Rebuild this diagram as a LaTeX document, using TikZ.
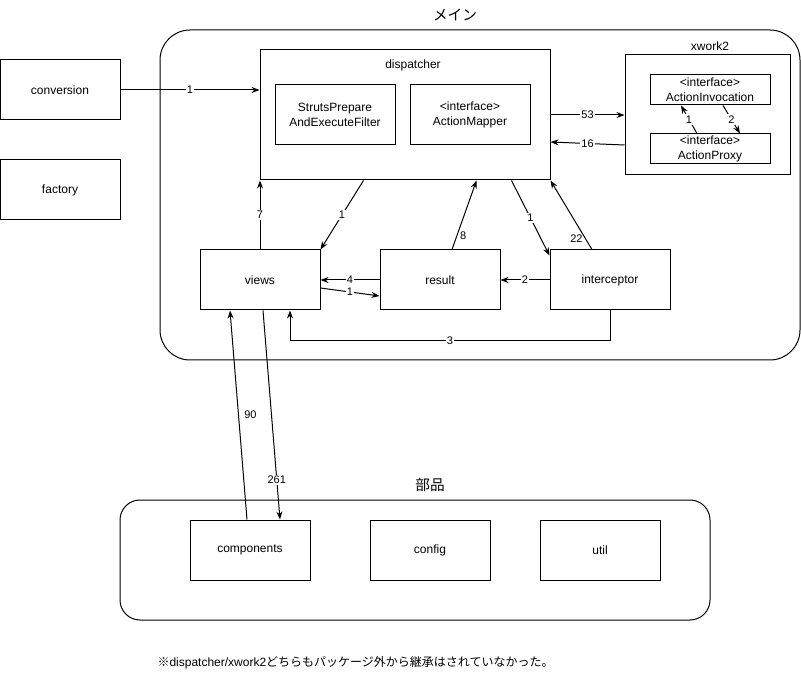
\documentclass[tikz,border=0pt]{standalone}
\usepackage{fontspec}
\setmainfont{Liberation Sans}
\newfontfamily\jpfont{Noto Sans CJK JP}
\usetikzlibrary{arrows.meta,calc,positioning}

\begin{document}
\begin{tikzpicture}[x=0.75pt,y=-0.75pt,line width=0.75pt,
  box/.style={draw,minimum width=90pt,minimum height=45pt,inner sep=0pt,align=center,font=\fontsize{9}{11.25}\selectfont},
  ibox/.style={box,minimum height=22.5pt},
  grp/.style={draw,rounded corners=#1,inner sep=0pt},
  ttl/.style={inner sep=1pt,font=\fontsize{9}{11}\selectfont},
  jttl/.style={inner sep=1pt,font=\jpfont\fontsize{11}{13}\selectfont},
  num/.style={fill=white,inner sep=1pt,font=\fontsize{8.25}{10}\selectfont},
  side/.style={inner sep=1pt,font=\fontsize{8.25}{10}\selectfont},
  arr/.style={-{Stealth[length=6pt,width=4.5pt]}}]
            \useasboundingbox (0,0) rectangle (801,681);

            \node[grp=22.5pt,minimum width=480pt,minimum height=247.5pt] (main) at (480,195) {};
            \node[jttl] (maint) at (455,15) {メイン};
            \node[grp=15pt,minimum width=442.5pt,minimum height=90pt] (parts) at (415,560) {};
            \node[jttl] (partst) at (430,485) {部品};

            \node[box] (conv) at (60,90) {conversion};
            \node[box] (fact) at (60,190) {factory};

            \node[box,minimum width=217.5pt,minimum height=97.5pt] (disp) at (405,115) {};
            \node[ttl] (dispt) at (413,65) {dispatcher};
            \node[box] (filter) at (335,115) {StrutsPrepare\\AndExecuteFilter};
            \node[box] (mapper) at (470,115) {<interface>\\ActionMapper};

            \node[box,minimum width=123.75pt,minimum height=90pt] (xw) at (707.5,115) {};
            \node[ttl] (xwt) at (710,46) {xwork2};
            \node[ibox] (ai) at (710,90) {<interface>\\ActionInvocation};
            \node[ibox] (ap) at (710,149) {<interface>\\ActionProxy};

            \node[box] (views)  at (260,280) {views};
            \node[box] (result) at (440,280) {result};
            \node[box] (inter)  at (610,280) {interceptor};

            \node[box] (comp)   at (250,550) {components};
            \node[box] (config) at (430,550) {config};
            \node[box] (util)   at (600,550) {util};

            \node[inner sep=0pt,anchor=west,font=\fontsize{9}{11}\selectfont] (note) at (157,663)
                {{\jpfont ※}dispatcher/xwork2{\jpfont どちらもパッケージ外から継承はされていなかった。}};

            \begin{scope}[arr]
                \draw (conv.east) -- (disp.west |- conv.east) node[num,midway] {1};
                \draw (disp.east) -- (xw.west) node[num,midway] {53};
                \draw ($(xw.west)+(0,30)$) -- ($(disp.east)+(0,27)$) node[num,midway] {16};
                \draw ($(ap.north)+(-13,0)$) -- ($(ai.south)+(-29,0)$) node[num,midway] {1};
                \draw ($(ai.south)+(13,0)$) -- ($(ap.north)+(30,0)$) node[num,midway] {2};

                \draw (views.north) -- (views.north |- disp.south) node[num,midway] {7};
                \draw ($(disp.south west)+(104,0)$) -- (views.north east) node[num,midway] {1};
                \draw ($(result.north)+(12,0)$) -- ($(disp.south west)+(217,0)$) node[side,pos=0.2,right=1pt] {8};
                \draw ($(disp.south west)+(252,0)$) -- ($(inter.north west)+(0,6)$) node[num,midway] {1};
                \draw ($(inter.north)+(-18,0)$) -- (disp.south east) node[side,pos=0.15,left=1pt] {22};

                \draw (result.west) -- (views.east) node[num,midway] {4};
                \draw ($(views.east)+(0,8)$) -- ($(result.west)+(0,16)$) node[num,midway] {1};
                \draw (inter.west) -- (result.east) node[num,midway] {2};
                \draw (inter.south) -- ++(0,30) -| ($(views.south)+(30,0)$) node[num,pos=0.25] {3};

                \draw ($(comp.north)+(-3,0)$) -- ($(views.south)+(-30,0)$) node[side,midway,right=3pt] {90};
                \draw ($(views.south)+(3,0)$) -- ($(comp.north)+(30,0)$) node[num,pos=0.81] {261};
            \end{scope}
        \end{tikzpicture}
\end{document}
